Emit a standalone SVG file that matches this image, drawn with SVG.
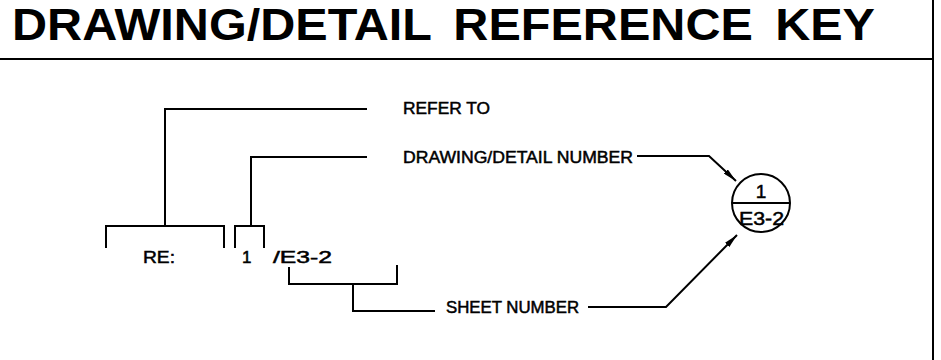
<svg xmlns="http://www.w3.org/2000/svg" width="941" height="360" viewBox="0 0 941 360">
<style>
.ln{fill:none;stroke:#000;stroke-width:2;stroke-linecap:butt;stroke-linejoin:miter}
.t{font-family:"Liberation Sans","DejaVu Sans",Arial,sans-serif;font-size:17px;fill:#000;stroke:#000;stroke-width:0.5}
.tb{font-size:19px}
.title{font-family:"Liberation Sans",Arial,sans-serif;font-weight:bold;font-size:44px;fill:#000}
</style>
<defs>
<marker id="ah" viewBox="0 0 14 6" refX="14" refY="3" markerWidth="14" markerHeight="6" markerUnits="userSpaceOnUse" orient="auto">
<path d="M0,0 L14,3 L0,6 Z" fill="#000"/>
</marker>
</defs>
<rect width="941" height="360" fill="#fff"/>
<g id="frame">
<line class="ln" x1="933" y1="0" x2="933" y2="360"/>
<line class="ln" x1="0" y1="59" x2="933" y2="59" stroke-width="2.5"/>
</g>
<g id="title">
<text class="title" x="12" y="40" textLength="863" lengthAdjust="spacingAndGlyphs" word-spacing="8">DRAWING/DETAIL REFERENCE KEY</text>
</g>
<g id="example">
<text class="t" x="143" y="263" textLength="32" lengthAdjust="spacingAndGlyphs">RE:</text>
<text class="t" x="242" y="263">1</text>
<text class="t" x="273" y="263" textLength="59" lengthAdjust="spacingAndGlyphs">/E3-2</text>
</g>
<g id="label-refer">
<text class="t" x="403" y="114" textLength="87" lengthAdjust="spacingAndGlyphs">REFER TO</text>
</g>
<g id="label-drawing">
<text class="t" x="403" y="163" textLength="230" lengthAdjust="spacingAndGlyphs">DRAWING/DETAIL NUMBER</text>
</g>
<g id="label-sheet">
<text class="t" x="446" y="313" textLength="133" lengthAdjust="spacingAndGlyphs">SHEET NUMBER</text>
</g>
<g id="bubble">
<circle class="ln" cx="761" cy="203" r="29"/>
<line class="ln" x1="732" y1="203" x2="790" y2="203"/>
<text class="t tb" x="761" y="198" text-anchor="middle">1</text>
<text class="t tb" x="739" y="225" textLength="45" lengthAdjust="spacingAndGlyphs">E3-2</text>
</g>
<g id="connectors">
<path class="ln" d="M106,248 V226 H224 V248"/>
<path class="ln" d="M165,226 V109 H367"/>
<path class="ln" d="M235,248 V226 H264 V248"/>
<path class="ln" d="M251,226 V157 H367"/>
<path class="ln" d="M289,267 V284 H397 V265"/>
<path class="ln" d="M353,284 V311 H435"/>
<path class="ln" d="M637,156 H709 L736,181" marker-end="url(#ah)"/>
<path class="ln" d="M588,307 H666 L737,235" marker-end="url(#ah)"/>
</g>
</svg>
